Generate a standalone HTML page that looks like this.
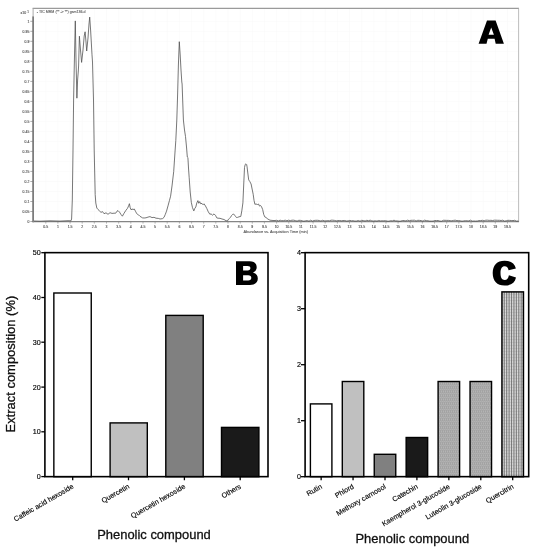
<!DOCTYPE html>
<html><head><meta charset="utf-8"><title>Figure</title>
<style>
html,body{margin:0;padding:0;background:#fff;}
body{width:533px;height:550px;overflow:hidden;font-family:"Liberation Sans",sans-serif;}
svg{display:block;font-family:"Liberation Sans",sans-serif;will-change:transform;}
</style></head>
<body>
<svg width="533" height="550" viewBox="0 0 533 550">
<defs>
<pattern id="dots" width="2" height="4" patternUnits="userSpaceOnUse">
<rect width="2" height="4" fill="#a3a3a3"/>
<rect x="1" y="0" width="1" height="4" fill="#ababab"/>
<rect x="0" y="1" width="1" height="1" fill="#b2b2b2"/>
<rect x="1" y="3" width="1" height="1" fill="#b4b4b4"/>
</pattern>
<pattern id="grid" width="2.36" height="1.5" patternUnits="userSpaceOnUse">
<rect width="2.36" height="1.5" fill="#e0e0e0"/>
<rect x="0" y="0" width="1.1" height="1.5" fill="#888"/>
<rect x="0" y="0" width="2.36" height="0.6" fill="#808080" fill-opacity="0.5"/>
</pattern>
</defs>
<rect width="533" height="550" fill="#fff"/>
<g id="chartA">
<g stroke="#f8f8f8" stroke-width="0.6">
<line x1="45.8" y1="9" x2="45.8" y2="221"/>
<line x1="57.9" y1="9" x2="57.9" y2="221"/>
<line x1="70.1" y1="9" x2="70.1" y2="221"/>
<line x1="82.2" y1="9" x2="82.2" y2="221"/>
<line x1="94.3" y1="9" x2="94.3" y2="221"/>
<line x1="106.5" y1="9" x2="106.5" y2="221"/>
<line x1="118.7" y1="9" x2="118.7" y2="221"/>
<line x1="130.8" y1="9" x2="130.8" y2="221"/>
<line x1="143.0" y1="9" x2="143.0" y2="221"/>
<line x1="155.1" y1="9" x2="155.1" y2="221"/>
<line x1="167.2" y1="9" x2="167.2" y2="221"/>
<line x1="179.4" y1="9" x2="179.4" y2="221"/>
<line x1="191.6" y1="9" x2="191.6" y2="221"/>
<line x1="203.7" y1="9" x2="203.7" y2="221"/>
<line x1="215.8" y1="9" x2="215.8" y2="221"/>
<line x1="228.0" y1="9" x2="228.0" y2="221"/>
<line x1="240.2" y1="9" x2="240.2" y2="221"/>
<line x1="252.3" y1="9" x2="252.3" y2="221"/>
<line x1="264.4" y1="9" x2="264.4" y2="221"/>
<line x1="276.6" y1="9" x2="276.6" y2="221"/>
<line x1="288.8" y1="9" x2="288.8" y2="221"/>
<line x1="300.9" y1="9" x2="300.9" y2="221"/>
<line x1="313.1" y1="9" x2="313.1" y2="221"/>
<line x1="325.2" y1="9" x2="325.2" y2="221"/>
<line x1="337.4" y1="9" x2="337.4" y2="221"/>
<line x1="349.5" y1="9" x2="349.5" y2="221"/>
<line x1="361.7" y1="9" x2="361.7" y2="221"/>
<line x1="373.8" y1="9" x2="373.8" y2="221"/>
<line x1="386.0" y1="9" x2="386.0" y2="221"/>
<line x1="398.1" y1="9" x2="398.1" y2="221"/>
<line x1="410.3" y1="9" x2="410.3" y2="221"/>
<line x1="422.4" y1="9" x2="422.4" y2="221"/>
<line x1="434.6" y1="9" x2="434.6" y2="221"/>
<line x1="446.7" y1="9" x2="446.7" y2="221"/>
<line x1="458.9" y1="9" x2="458.9" y2="221"/>
<line x1="471.0" y1="9" x2="471.0" y2="221"/>
<line x1="483.2" y1="9" x2="483.2" y2="221"/>
<line x1="495.3" y1="9" x2="495.3" y2="221"/>
<line x1="507.5" y1="9" x2="507.5" y2="221"/>
<line x1="34" y1="211.5" x2="518" y2="211.5"/>
<line x1="34" y1="201.5" x2="518" y2="201.5"/>
<line x1="34" y1="191.5" x2="518" y2="191.5"/>
<line x1="34" y1="181.5" x2="518" y2="181.5"/>
<line x1="34" y1="171.4" x2="518" y2="171.4"/>
<line x1="34" y1="161.4" x2="518" y2="161.4"/>
<line x1="34" y1="151.4" x2="518" y2="151.4"/>
<line x1="34" y1="141.4" x2="518" y2="141.4"/>
<line x1="34" y1="131.4" x2="518" y2="131.4"/>
<line x1="34" y1="121.4" x2="518" y2="121.4"/>
<line x1="34" y1="111.4" x2="518" y2="111.4"/>
<line x1="34" y1="101.4" x2="518" y2="101.4"/>
<line x1="34" y1="91.4" x2="518" y2="91.4"/>
<line x1="34" y1="81.4" x2="518" y2="81.4"/>
<line x1="34" y1="71.4" x2="518" y2="71.4"/>
<line x1="34" y1="61.3" x2="518" y2="61.3"/>
<line x1="34" y1="51.3" x2="518" y2="51.3"/>
<line x1="34" y1="41.3" x2="518" y2="41.3"/>
<line x1="34" y1="31.3" x2="518" y2="31.3"/>
<line x1="34" y1="21.3" x2="518" y2="21.3"/>
</g>
<line x1="32.6" y1="8.4" x2="519" y2="8.4" stroke="#9a9a9a" stroke-width="1.1"/>
<line x1="518.6" y1="8.4" x2="518.6" y2="222" stroke="#b6b6b6" stroke-width="0.9"/>
<line x1="33.1" y1="8.4" x2="33.1" y2="17" stroke="#aaa" stroke-width="1.0"/>
<line x1="33.1" y1="16.5" x2="33.1" y2="222.3" stroke="#6e6e6e" stroke-width="1.6"/>
<line x1="32.5" y1="221.7" x2="519" y2="221.7" stroke="#858585" stroke-width="1.3"/>
<g stroke="#777" stroke-width="0.6">
<line x1="30.3" y1="221.5" x2="33" y2="221.5"/>
<line x1="30.3" y1="211.5" x2="33" y2="211.5"/>
<line x1="30.3" y1="201.5" x2="33" y2="201.5"/>
<line x1="30.3" y1="191.5" x2="33" y2="191.5"/>
<line x1="30.3" y1="181.5" x2="33" y2="181.5"/>
<line x1="30.3" y1="171.4" x2="33" y2="171.4"/>
<line x1="30.3" y1="161.4" x2="33" y2="161.4"/>
<line x1="30.3" y1="151.4" x2="33" y2="151.4"/>
<line x1="30.3" y1="141.4" x2="33" y2="141.4"/>
<line x1="30.3" y1="131.4" x2="33" y2="131.4"/>
<line x1="30.3" y1="121.4" x2="33" y2="121.4"/>
<line x1="30.3" y1="111.4" x2="33" y2="111.4"/>
<line x1="30.3" y1="101.4" x2="33" y2="101.4"/>
<line x1="30.3" y1="91.4" x2="33" y2="91.4"/>
<line x1="30.3" y1="81.4" x2="33" y2="81.4"/>
<line x1="30.3" y1="71.4" x2="33" y2="71.4"/>
<line x1="30.3" y1="61.3" x2="33" y2="61.3"/>
<line x1="30.3" y1="51.3" x2="33" y2="51.3"/>
<line x1="30.3" y1="41.3" x2="33" y2="41.3"/>
<line x1="30.3" y1="31.3" x2="33" y2="31.3"/>
<line x1="30.3" y1="21.3" x2="33" y2="21.3"/>
</g>
<g font-size="4.1" fill="#555" stroke="#555" stroke-width="0.14" text-anchor="end">
<text transform="translate(29.3,222.9) scale(0.84,1)">0</text>
<text transform="translate(29.3,212.9) scale(0.84,1)">0.05</text>
<text transform="translate(29.3,202.9) scale(0.84,1)">0.1</text>
<text transform="translate(29.3,192.9) scale(0.84,1)">0.15</text>
<text transform="translate(29.3,182.9) scale(0.84,1)">0.2</text>
<text transform="translate(29.3,172.9) scale(0.84,1)">0.25</text>
<text transform="translate(29.3,162.9) scale(0.84,1)">0.3</text>
<text transform="translate(29.3,152.9) scale(0.84,1)">0.35</text>
<text transform="translate(29.3,142.9) scale(0.84,1)">0.4</text>
<text transform="translate(29.3,132.9) scale(0.84,1)">0.45</text>
<text transform="translate(29.3,122.9) scale(0.84,1)">0.5</text>
<text transform="translate(29.3,112.8) scale(0.84,1)">0.55</text>
<text transform="translate(29.3,102.8) scale(0.84,1)">0.6</text>
<text transform="translate(29.3,92.8) scale(0.84,1)">0.65</text>
<text transform="translate(29.3,82.8) scale(0.84,1)">0.7</text>
<text transform="translate(29.3,72.8) scale(0.84,1)">0.75</text>
<text transform="translate(29.3,62.8) scale(0.84,1)">0.8</text>
<text transform="translate(29.3,52.8) scale(0.84,1)">0.85</text>
<text transform="translate(29.3,42.8) scale(0.84,1)">0.9</text>
<text transform="translate(29.3,32.8) scale(0.84,1)">0.95</text>
<text transform="translate(29.3,22.8) scale(0.84,1)">1</text>
<text transform="translate(28.9,13.9) scale(0.86,1)">x10 <tspan font-size="3.4" dy="-1.0">1</tspan></text>
</g>
<g stroke="#888" stroke-width="0.6">
<line x1="45.8" y1="221.7" x2="45.8" y2="223.6"/>
<line x1="57.9" y1="221.7" x2="57.9" y2="223.6"/>
<line x1="70.1" y1="221.7" x2="70.1" y2="223.6"/>
<line x1="82.2" y1="221.7" x2="82.2" y2="223.6"/>
<line x1="94.3" y1="221.7" x2="94.3" y2="223.6"/>
<line x1="106.5" y1="221.7" x2="106.5" y2="223.6"/>
<line x1="118.7" y1="221.7" x2="118.7" y2="223.6"/>
<line x1="130.8" y1="221.7" x2="130.8" y2="223.6"/>
<line x1="143.0" y1="221.7" x2="143.0" y2="223.6"/>
<line x1="155.1" y1="221.7" x2="155.1" y2="223.6"/>
<line x1="167.2" y1="221.7" x2="167.2" y2="223.6"/>
<line x1="179.4" y1="221.7" x2="179.4" y2="223.6"/>
<line x1="191.6" y1="221.7" x2="191.6" y2="223.6"/>
<line x1="203.7" y1="221.7" x2="203.7" y2="223.6"/>
<line x1="215.8" y1="221.7" x2="215.8" y2="223.6"/>
<line x1="228.0" y1="221.7" x2="228.0" y2="223.6"/>
<line x1="240.2" y1="221.7" x2="240.2" y2="223.6"/>
<line x1="252.3" y1="221.7" x2="252.3" y2="223.6"/>
<line x1="264.4" y1="221.7" x2="264.4" y2="223.6"/>
<line x1="276.6" y1="221.7" x2="276.6" y2="223.6"/>
<line x1="288.8" y1="221.7" x2="288.8" y2="223.6"/>
<line x1="300.9" y1="221.7" x2="300.9" y2="223.6"/>
<line x1="313.1" y1="221.7" x2="313.1" y2="223.6"/>
<line x1="325.2" y1="221.7" x2="325.2" y2="223.6"/>
<line x1="337.4" y1="221.7" x2="337.4" y2="223.6"/>
<line x1="349.5" y1="221.7" x2="349.5" y2="223.6"/>
<line x1="361.7" y1="221.7" x2="361.7" y2="223.6"/>
<line x1="373.8" y1="221.7" x2="373.8" y2="223.6"/>
<line x1="386.0" y1="221.7" x2="386.0" y2="223.6"/>
<line x1="398.1" y1="221.7" x2="398.1" y2="223.6"/>
<line x1="410.3" y1="221.7" x2="410.3" y2="223.6"/>
<line x1="422.4" y1="221.7" x2="422.4" y2="223.6"/>
<line x1="434.6" y1="221.7" x2="434.6" y2="223.6"/>
<line x1="446.7" y1="221.7" x2="446.7" y2="223.6"/>
<line x1="458.9" y1="221.7" x2="458.9" y2="223.6"/>
<line x1="471.0" y1="221.7" x2="471.0" y2="223.6"/>
<line x1="483.2" y1="221.7" x2="483.2" y2="223.6"/>
<line x1="495.3" y1="221.7" x2="495.3" y2="223.6"/>
<line x1="507.5" y1="221.7" x2="507.5" y2="223.6"/>
</g>
<g font-size="4.1" fill="#555" stroke="#555" stroke-width="0.14" text-anchor="middle">
<text transform="translate(45.8,228.1) scale(0.86,1)">0.5</text>
<text transform="translate(57.9,228.1) scale(0.86,1)">1</text>
<text transform="translate(70.1,228.1) scale(0.86,1)">1.5</text>
<text transform="translate(82.2,228.1) scale(0.86,1)">2</text>
<text transform="translate(94.3,228.1) scale(0.86,1)">2.5</text>
<text transform="translate(106.5,228.1) scale(0.86,1)">3</text>
<text transform="translate(118.7,228.1) scale(0.86,1)">3.5</text>
<text transform="translate(130.8,228.1) scale(0.86,1)">4</text>
<text transform="translate(143.0,228.1) scale(0.86,1)">4.5</text>
<text transform="translate(155.1,228.1) scale(0.86,1)">5</text>
<text transform="translate(167.2,228.1) scale(0.86,1)">5.5</text>
<text transform="translate(179.4,228.1) scale(0.86,1)">6</text>
<text transform="translate(191.6,228.1) scale(0.86,1)">6.5</text>
<text transform="translate(203.7,228.1) scale(0.86,1)">7</text>
<text transform="translate(215.8,228.1) scale(0.86,1)">7.5</text>
<text transform="translate(228.0,228.1) scale(0.86,1)">8</text>
<text transform="translate(240.2,228.1) scale(0.86,1)">8.5</text>
<text transform="translate(252.3,228.1) scale(0.86,1)">9</text>
<text transform="translate(264.4,228.1) scale(0.86,1)">9.5</text>
<text transform="translate(276.6,228.1) scale(0.86,1)">10</text>
<text transform="translate(288.8,228.1) scale(0.86,1)">10.5</text>
<text transform="translate(300.9,228.1) scale(0.86,1)">11</text>
<text transform="translate(313.1,228.1) scale(0.86,1)">11.5</text>
<text transform="translate(325.2,228.1) scale(0.86,1)">12</text>
<text transform="translate(337.4,228.1) scale(0.86,1)">12.5</text>
<text transform="translate(349.5,228.1) scale(0.86,1)">13</text>
<text transform="translate(361.7,228.1) scale(0.86,1)">13.5</text>
<text transform="translate(373.8,228.1) scale(0.86,1)">14</text>
<text transform="translate(386.0,228.1) scale(0.86,1)">14.5</text>
<text transform="translate(398.1,228.1) scale(0.86,1)">15</text>
<text transform="translate(410.3,228.1) scale(0.86,1)">15.5</text>
<text transform="translate(422.4,228.1) scale(0.86,1)">16</text>
<text transform="translate(434.6,228.1) scale(0.86,1)">16.5</text>
<text transform="translate(446.7,228.1) scale(0.86,1)">17</text>
<text transform="translate(458.9,228.1) scale(0.86,1)">17.5</text>
<text transform="translate(471.0,228.1) scale(0.86,1)">18</text>
<text transform="translate(483.2,228.1) scale(0.86,1)">18.5</text>
<text transform="translate(495.3,228.1) scale(0.86,1)">19</text>
<text transform="translate(507.5,228.1) scale(0.86,1)">19.5</text>
</g>
<text x="243.5" y="232.9" font-size="4.1" fill="#555" stroke="#555" stroke-width="0.1" textLength="64.5" lengthAdjust="spacingAndGlyphs">Abundance vs. Acquisition Time (min)</text>
<text x="36.8" y="12.9" font-size="4.1" fill="#555" stroke="#555" stroke-width="0.1" textLength="48.8" lengthAdjust="spacingAndGlyphs">- TIC MRM (** -&gt; **) gsm136.d</text>
<path d="M34.0,221.0 L40.0,221.2 L50.0,220.8 L60.0,221.1 L68.0,220.7 L71.0,220.8 L71.6,219.0 L72.3,200.0 L73.0,150.0 L73.6,100.0 L74.4,60.0 L75.3,20.9 L76.0,60.0 L76.9,98.2 L77.6,80.0 L78.3,71.0 L78.6,66.0 L79.4,36.2 L80.5,50.0 L81.6,62.4 L83.0,50.0 L84.2,36.0 L85.1,31.8 L86.0,42.0 L86.7,51.0 L88.0,38.0 L89.0,24.0 L89.7,17.1 L90.6,30.0 L91.4,44.0 L92.0,54.8 L92.5,62.0 L93.5,100.0 L94.2,150.0 L95.2,194.6 L95.8,203.0 L96.8,208.0 L98.0,209.5 L99.7,211.1 L101.0,212.4 L102.5,211.6 L104.0,213.7 L106.0,212.8 L108.0,214.3 L110.0,212.7 L112.0,213.4 L114.0,213.2 L115.7,213.2 L117.0,211.2 L118.0,210.6 L119.5,212.1 L121.0,214.5 L122.4,216.2 L124.0,213.3 L126.0,210.2 L127.5,208.3 L128.6,205.9 L129.4,203.7 L130.2,207.7 L131.2,209.9 L132.0,208.9 L133.0,209.6 L134.3,209.0 L135.5,211.3 L136.5,213.2 L137.4,214.3 L138.6,214.9 L140.0,216.3 L142.6,217.9 L144.1,218.0 L146.0,217.8 L148.0,217.1 L150.0,216.6 L152.0,217.6 L154.0,217.3 L156.0,218.2 L158.3,218.4 L160.0,219.0 L162.4,218.7 L164.0,217.4 L165.3,214.4 L166.5,211.2 L168.0,205.9 L169.4,200.7 L170.6,196.2 L172.0,186.0 L173.7,171.6 L175.0,152.0 L175.8,140.6 L176.8,120.0 L177.6,95.0 L178.4,65.0 L179.3,41.7 L180.2,55.0 L181.0,70.0 L181.8,82.0 L182.1,84.0 L182.4,92.0 L183.4,120.0 L184.5,130.0 L185.5,136.5 L186.6,148.0 L187.3,157.0 L187.9,157.5 L188.5,168.0 L189.2,177.8 L190.2,192.0 L191.3,202.3 L192.5,207.7 L193.8,210.9 L194.8,208.4 L195.8,207.0 L196.8,203.0 L197.9,200.6 L198.8,203.3 L199.7,201.6 L200.6,203.7 L202.0,203.4 L203.0,204.8 L204.0,203.8 L205.5,206.0 L206.8,208.5 L208.3,211.8 L209.9,214.3 L211.0,213.8 L212.5,215.2 L214.0,213.9 L215.5,215.4 L216.8,217.9 L218.0,218.2 L220.0,218.3 L222.0,219.0 L224.0,219.5 L226.0,220.7 L227.4,221.0 L228.5,219.2 L229.5,218.3 L230.5,217.4 L231.5,215.6 L232.6,214.4 L233.6,214.0 L234.6,215.2 L235.5,216.4 L236.3,217.4 L237.5,217.4 L239.0,216.8 L240.8,216.4 L241.8,210.9 L242.9,202.9 L243.7,185.0 L244.5,167.5 L245.2,164.5 L246.0,163.8 L246.6,164.5 L247.0,166.4 L247.8,173.0 L248.7,179.9 L249.8,181.5 L251.1,184.0 L252.1,189.0 L253.2,194.3 L254.0,200.3 L254.9,204.3 L256.0,204.0 L257.5,204.5 L258.5,204.0 L259.5,206.1 L260.6,205.5 L261.6,206.9 L262.7,209.6 L263.7,214.4 L264.8,216.9 L266.0,217.5 L267.9,219.1 L270.0,220.2 L273.0,220.5 L275.0,220.5 L276.7,220.3 L278.4,220.9 L280.1,220.2 L281.8,220.7 L283.5,220.6 L285.2,220.2 L286.9,220.7 L288.6,220.2 L290.3,220.6 L292.0,220.2 L293.7,220.2 L295.4,220.6 L297.1,221.1 L298.8,220.3 L300.5,220.4 L302.2,220.8 L303.9,221.2 L305.6,220.8 L307.3,220.6 L309.0,221.2 L310.7,220.2 L312.4,221.1 L314.1,220.5 L315.8,220.3 L317.5,220.3 L319.2,220.5 L320.9,221.0 L322.6,220.3 L324.3,220.8 L326.0,220.9 L327.7,220.6 L329.4,220.8 L331.1,220.2 L332.8,220.2 L334.5,220.4 L336.2,220.9 L337.9,220.6 L339.6,220.5 L341.3,220.8 L343.0,220.6 L344.7,220.5 L346.4,221.0 L348.1,220.9 L349.8,220.4 L351.5,220.8 L353.2,220.7 L354.9,221.1 L356.6,221.0 L358.3,220.5 L360.0,221.2 L361.7,220.3 L363.4,220.6 L365.1,221.0 L366.8,220.3 L368.5,220.7 L370.2,220.2 L371.9,220.9 L373.6,221.0 L375.3,220.8 L377.0,221.1 L378.7,220.5 L380.4,220.9 L382.1,220.8 L383.8,220.8 L385.5,220.7 L387.2,221.1 L388.9,221.2 L390.6,220.7 L392.3,220.9 L394.0,220.2 L395.7,220.9 L397.4,220.9 L399.1,221.2 L400.8,221.1 L402.5,220.5 L404.2,220.6 L405.9,220.9 L407.6,220.2 L409.3,220.7 L411.0,220.3 L412.7,220.3 L414.4,220.2 L416.1,221.0 L417.8,220.3 L419.5,220.4 L421.2,220.6 L422.9,221.1 L424.6,220.2 L426.3,220.6 L428.0,220.8 L429.7,221.1 L431.4,221.1 L433.1,221.1 L434.8,220.5 L436.5,220.6 L438.2,220.5 L439.9,221.1 L441.6,221.2 L443.3,220.3 L445.0,220.3 L446.7,220.4 L448.4,220.4 L450.1,220.7 L451.8,220.8 L453.5,220.4 L455.2,220.2 L456.9,220.6 L458.6,220.6 L460.3,220.8 L462.0,221.2 L463.7,220.9 L465.4,220.7 L467.1,220.8 L468.8,220.9 L470.5,220.2 L472.2,221.1 L473.9,221.0 L475.6,221.1 L477.3,221.0 L479.0,220.6 L480.7,220.6 L482.4,220.3 L484.1,220.8 L485.8,220.2 L487.5,220.2 L489.2,220.4 L490.9,220.3 L492.6,220.5 L494.3,220.2 L496.0,220.2 L497.7,220.3 L499.4,220.3 L501.1,220.5 L502.8,220.2 L504.5,221.1 L506.2,220.8 L507.9,220.3 L509.6,220.4 L511.3,220.5 L513.0,220.6 L514.7,220.3 L516.4,221.1 L518.5,221.0" fill="none" stroke="#505050" stroke-width="0.78" stroke-linejoin="round"/>
<path d="M487,20.4 L495.6,20.4 L503.9,43.8 L495.7,43.8 L494.6,38.7 L487.8,38.7 L486.5,43.8 L478.6,43.8 Z M491.2,27.6 L488.6,34.8 L493.9,34.8 Z" fill="#000" fill-rule="evenodd"/>
</g>
<g id="chartB">
<rect x="53.85" y="293.0" width="37.4" height="183.7" fill="#ffffff" stroke="#000" stroke-width="1.4"/>
<rect x="110.1" y="422.9" width="37.2" height="53.8" fill="#c0c0c0" stroke="#000" stroke-width="1.4"/>
<rect x="165.8" y="315.4" width="37.4" height="161.3" fill="#808080" stroke="#000" stroke-width="1.4"/>
<rect x="221.5" y="427.4" width="37.4" height="49.3" fill="#1a1a1a" stroke="#000" stroke-width="1.4"/>
<rect x="44.9" y="252.65" width="223.10" height="224.0" fill="none" stroke="#000" stroke-width="1.6"/>
<g stroke="#000" stroke-width="1.3">
<line x1="41.3" y1="476.6" x2="44.9" y2="476.6"/>
<line x1="41.3" y1="431.8" x2="44.9" y2="431.8"/>
<line x1="41.3" y1="387.1" x2="44.9" y2="387.1"/>
<line x1="41.3" y1="342.2" x2="44.9" y2="342.2"/>
<line x1="41.3" y1="297.5" x2="44.9" y2="297.5"/>
<line x1="41.3" y1="252.7" x2="44.9" y2="252.7"/>
<line x1="72.7" y1="476.65" x2="72.7" y2="480.25"/>
<line x1="128.5" y1="476.65" x2="128.5" y2="480.25"/>
<line x1="184.4" y1="476.65" x2="184.4" y2="480.25"/>
<line x1="240.2" y1="476.65" x2="240.2" y2="480.25"/>
</g>
<g font-size="7.15" fill="#000" stroke="#000" stroke-width="0.15" text-anchor="end">
<text x="40.8" y="479.2">0</text>
<text x="40.8" y="434.4">10</text>
<text x="40.8" y="389.7">20</text>
<text x="40.8" y="344.9">30</text>
<text x="40.8" y="300.1">40</text>
<text x="40.8" y="255.2">50</text>
<text transform="translate(74.2,487.84999999999997) rotate(-30)" x="0" y="0">Caffeic acid hexoside</text>
<text transform="translate(130.0,487.84999999999997) rotate(-30)" x="0" y="0">Quercetin</text>
<text transform="translate(185.9,487.84999999999997) rotate(-30)" x="0" y="0">Quercetin hexoside</text>
<text transform="translate(241.7,487.84999999999997) rotate(-30)" x="0" y="0">Others</text>
</g>
<text transform="translate(14.9,364.1) rotate(-90)" font-size="12.95" fill="#111" stroke="#111" stroke-width="0.3" text-anchor="middle">Extract composition (%)</text>
<text x="154.0" y="539.2" font-size="12.95" fill="#111" stroke="#111" stroke-width="0.3" text-anchor="middle">Phenolic compound</text>
<path d="M236,261.3 L249.6,261.3 C254.5,261.3 256.7,263.8 256.7,267.2 C256.7,269.8 255.3,271.6 253,272.5 C256,273.3 257.8,275.4 257.8,278.4 C257.8,282.4 255,284.9 250,284.9 L236,284.9 Z M243.1,265.9 L243.1,270.4 L247.6,270.4 C249.5,270.4 250.4,269.6 250.4,268.1 C250.4,266.7 249.5,265.9 247.6,265.9 Z M243.1,275.3 L243.1,280.4 L248.1,280.4 C250.3,280.4 251.3,279.5 251.3,277.8 C251.3,276.2 250.3,275.3 248.1,275.3 Z" fill="#000" fill-rule="evenodd"/>
</g>
<g id="chartC">
<rect x="310.40" y="403.9" width="21.5" height="72.8" fill="#ffffff" stroke="#000" stroke-width="1.4"/>
<rect x="342.30" y="381.5" width="21.5" height="95.2" fill="#c0c0c0" stroke="#000" stroke-width="1.4"/>
<rect x="374.25" y="454.3" width="21.5" height="22.4" fill="#808080" stroke="#000" stroke-width="1.4"/>
<rect x="406.15" y="437.5" width="21.5" height="39.2" fill="#1a1a1a" stroke="#000" stroke-width="1.4"/>
<rect x="438.10" y="381.5" width="21.5" height="95.2" fill="url(#dots)" stroke="#000" stroke-width="1.4"/>
<rect x="470.05" y="381.5" width="21.5" height="95.2" fill="url(#dots)" stroke="#000" stroke-width="1.4"/>
<rect x="501.95" y="291.9" width="21.5" height="184.8" fill="#ececec"/>
<path d="M504.26,291.9V476.7M506.68,291.9V476.7M509.10,291.9V476.7M511.52,291.9V476.7M513.94,291.9V476.7M516.36,291.9V476.7M518.78,291.9V476.7M521.20,291.9V476.7" stroke="#828282" stroke-width="1.1" fill="none"/>
<path d="M501.95,293.06H523.45M501.95,294.56H523.45M501.95,296.06H523.45M501.95,297.56H523.45M501.95,299.06H523.45M501.95,300.56H523.45M501.95,302.06H523.45M501.95,303.56H523.45M501.95,305.06H523.45M501.95,306.56H523.45M501.95,308.06H523.45M501.95,309.56H523.45M501.95,311.06H523.45M501.95,312.56H523.45M501.95,314.06H523.45M501.95,315.56H523.45M501.95,317.06H523.45M501.95,318.56H523.45M501.95,320.06H523.45M501.95,321.56H523.45M501.95,323.06H523.45M501.95,324.56H523.45M501.95,326.06H523.45M501.95,327.56H523.45M501.95,329.06H523.45M501.95,330.56H523.45M501.95,332.06H523.45M501.95,333.56H523.45M501.95,335.06H523.45M501.95,336.56H523.45M501.95,338.06H523.45M501.95,339.56H523.45M501.95,341.06H523.45M501.95,342.56H523.45M501.95,344.06H523.45M501.95,345.56H523.45M501.95,347.06H523.45M501.95,348.56H523.45M501.95,350.06H523.45M501.95,351.56H523.45M501.95,353.06H523.45M501.95,354.56H523.45M501.95,356.06H523.45M501.95,357.56H523.45M501.95,359.06H523.45M501.95,360.56H523.45M501.95,362.06H523.45M501.95,363.56H523.45M501.95,365.06H523.45M501.95,366.56H523.45M501.95,368.06H523.45M501.95,369.56H523.45M501.95,371.06H523.45M501.95,372.56H523.45M501.95,374.06H523.45M501.95,375.56H523.45M501.95,377.06H523.45M501.95,378.56H523.45M501.95,380.06H523.45M501.95,381.56H523.45M501.95,383.06H523.45M501.95,384.56H523.45M501.95,386.06H523.45M501.95,387.56H523.45M501.95,389.06H523.45M501.95,390.56H523.45M501.95,392.06H523.45M501.95,393.56H523.45M501.95,395.06H523.45M501.95,396.56H523.45M501.95,398.06H523.45M501.95,399.56H523.45M501.95,401.06H523.45M501.95,402.56H523.45M501.95,404.06H523.45M501.95,405.56H523.45M501.95,407.06H523.45M501.95,408.56H523.45M501.95,410.06H523.45M501.95,411.56H523.45M501.95,413.06H523.45M501.95,414.56H523.45M501.95,416.06H523.45M501.95,417.56H523.45M501.95,419.06H523.45M501.95,420.56H523.45M501.95,422.06H523.45M501.95,423.56H523.45M501.95,425.06H523.45M501.95,426.56H523.45M501.95,428.06H523.45M501.95,429.56H523.45M501.95,431.06H523.45M501.95,432.56H523.45M501.95,434.06H523.45M501.95,435.56H523.45M501.95,437.06H523.45M501.95,438.56H523.45M501.95,440.06H523.45M501.95,441.56H523.45M501.95,443.06H523.45M501.95,444.56H523.45M501.95,446.06H523.45M501.95,447.56H523.45M501.95,449.06H523.45M501.95,450.56H523.45M501.95,452.06H523.45M501.95,453.56H523.45M501.95,455.06H523.45M501.95,456.56H523.45M501.95,458.06H523.45M501.95,459.56H523.45M501.95,461.06H523.45M501.95,462.56H523.45M501.95,464.06H523.45M501.95,465.56H523.45M501.95,467.06H523.45M501.95,468.56H523.45M501.95,470.06H523.45M501.95,471.56H523.45M501.95,473.06H523.45M501.95,474.56H523.45M501.95,476.06H523.45" stroke="#606060" stroke-opacity="0.36" stroke-width="0.7" fill="none"/>
<rect x="501.95" y="291.9" width="21.5" height="184.8" fill="none" stroke="#000" stroke-width="1.5"/>
<rect x="305.1" y="252.65" width="223.60" height="224.0" fill="none" stroke="#000" stroke-width="1.6"/>
<g stroke="#000" stroke-width="1.3">
<line x1="301" y1="476.7" x2="305.1" y2="476.7"/>
<line x1="301" y1="420.7" x2="305.1" y2="420.7"/>
<line x1="301" y1="364.7" x2="305.1" y2="364.7"/>
<line x1="301" y1="308.7" x2="305.1" y2="308.7"/>
<line x1="301" y1="252.7" x2="305.1" y2="252.7"/>
<line x1="321.15" y1="476.7" x2="321.15" y2="480.3"/>
<line x1="353.05" y1="476.7" x2="353.05" y2="480.3"/>
<line x1="385.0" y1="476.7" x2="385.0" y2="480.3"/>
<line x1="416.9" y1="476.7" x2="416.9" y2="480.3"/>
<line x1="448.85" y1="476.7" x2="448.85" y2="480.3"/>
<line x1="480.8" y1="476.7" x2="480.8" y2="480.3"/>
<line x1="512.7" y1="476.7" x2="512.7" y2="480.3"/>
</g>
<g font-size="7.15" fill="#000" stroke="#000" stroke-width="0.15" text-anchor="end">
<text x="301.1" y="479.3">0</text>
<text x="301.1" y="423.3">1</text>
<text x="301.1" y="367.3">2</text>
<text x="301.1" y="311.3">3</text>
<text x="301.1" y="255.2">4</text>
<text transform="translate(322.65,487.9) rotate(-30)" x="0" y="0">Rutin</text>
<text transform="translate(354.55,487.9) rotate(-30)" x="0" y="0">Phlord</text>
<text transform="translate(386.5,487.9) rotate(-30)" x="0" y="0">Methoxy carnosol</text>
<text transform="translate(418.4,487.9) rotate(-30)" x="0" y="0">Catechin</text>
<text transform="translate(450.35,487.9) rotate(-30)" x="0" y="0">Kaempherol 3-glucoside</text>
<text transform="translate(482.3,487.9) rotate(-30)" x="0" y="0">Luteolin 3-glucoside</text>
<text transform="translate(514.2,487.9) rotate(-30)" x="0" y="0">Quercitrin</text>
</g>
<text x="412.3" y="542.9" font-size="12.95" fill="#111" stroke="#111" stroke-width="0.3" text-anchor="middle">Phenolic compound</text>
<path d="M504.6,260.7 C511,260.7 514.6,263.6 515.9,268.4 L508.6,270.3 C508.1,267.8 506.8,266.3 504.7,266.3 C501.9,266.3 500.5,268.6 500.5,273.1 C500.5,277.7 501.9,280 504.7,280 C507,280 508.4,278.3 508.9,275.2 L516,277.4 C514.9,282.6 511,285.6 504.6,285.6 C497,285.6 492.7,281 492.7,273.1 C492.7,265.3 497,260.7 504.6,260.7 Z" fill="#000"/>
</g>
</svg>
</body></html>
